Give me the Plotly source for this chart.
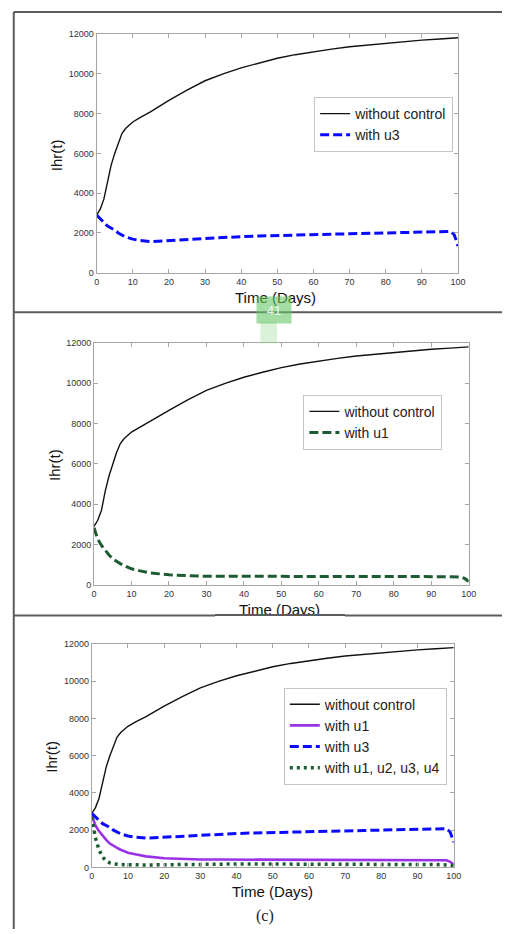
import plotly.graph_objects as go

# ---------------- data ----------------
t_days = [0, 1, 2, 3, 4, 5, 6, 7, 8, 10, 12, 15, 20, 25, 30, 35, 40, 45, 50,
          55, 60, 65, 70, 75, 80, 85, 90, 95, 98, 99, 100]

without_control = [2900, 3200, 3700, 4650, 5400, 6000, 6550, 7000, 7250, 7580,
                   7800, 8100, 8660, 9180, 9650, 10000, 10300, 10550, 10780,
                   10960, 11110, 11240, 11360, 11450, 11530, 11610, 11690,
                   11750, 11790, 11800, 11810]

with_u3 = [2900, 2700, 2520, 2350, 2250, 2150, 2000, 1900, 1800, 1690, 1620,
           1570, 1620, 1680, 1750, 1780, 1820, 1850, 1880, 1900, 1920, 1940,
           1960, 1980, 2000, 2020, 2050, 2070, 2080, 1900, 1350]

with_u1 = [2830, 2260, 1950, 1700, 1480, 1280, 1150, 1050, 950, 790, 700, 590,
           490, 450, 420, 420, 420, 420, 420, 420, 420, 420, 420, 420, 420,
           420, 420, 400, 380, 300, 160]

with_all = [2700, 1600, 950, 550, 350, 240, 190, 160, 150, 140, 130, 130, 140,
            160, 180, 180, 180, 180, 180, 180, 180, 180, 180, 180, 180, 180,
            180, 150, 130, 120, 100]

x_ticks = [0, 10, 20, 30, 40, 50, 60, 70, 80, 90, 100]
y_ticks = [0, 2000, 4000, 6000, 8000, 10000, 12000]
y_ticktext = ["0", "2000", "4000", "6000", "8000", "10000", "12000"]

x_title = "Time (Days)"
y_title = "Ihr(t)"
panel_label = "(c)"
page_number = "41"

# ---------------- layout helpers ----------------
W, H = 510, 934
FONT = "Liberation Sans, Arial, sans-serif"


def px(x):
    return x / W


def py(y):
    return 1 - y / H


BLACK = "#111111"
BLUE = "#0a0aff"
DGREEN = "#1d5c33"
PURPLE = "#9a32e8"

fig = go.Figure()

# panel 1
fig.add_trace(go.Scatter(x=t_days, y=without_control, name="without control",
                         mode="lines", line=dict(color=BLACK, width=1.4),
                         xaxis="x", yaxis="y", legend="legend"))
fig.add_trace(go.Scatter(x=t_days, y=with_u3, name="with u3", mode="lines",
                         line=dict(color=BLUE, width=3, dash="9px,4px"),
                         xaxis="x", yaxis="y", legend="legend"))
# panel 2
fig.add_trace(go.Scatter(x=t_days, y=without_control, name="without control",
                         mode="lines", line=dict(color=BLACK, width=1.4),
                         xaxis="x2", yaxis="y2", legend="legend2"))
fig.add_trace(go.Scatter(x=t_days, y=with_u1, name="with u1", mode="lines",
                         line=dict(color=DGREEN, width=3, dash="9px,4px"),
                         xaxis="x2", yaxis="y2", legend="legend2"))
# panel 3
fig.add_trace(go.Scatter(x=t_days, y=without_control, name="without control",
                         mode="lines", line=dict(color=BLACK, width=1.4),
                         xaxis="x3", yaxis="y3", legend="legend3"))
fig.add_trace(go.Scatter(x=t_days, y=with_u1, name="with u1", mode="lines",
                         line=dict(color=PURPLE, width=2.6),
                         xaxis="x3", yaxis="y3", legend="legend3"))
fig.add_trace(go.Scatter(x=t_days, y=with_u3, name="with u3", mode="lines",
                         line=dict(color=BLUE, width=3, dash="9px,4px"),
                         xaxis="x3", yaxis="y3", legend="legend3"))
fig.add_trace(go.Scatter(x=t_days, y=with_all, name="with u1, u2, u3, u4",
                         mode="lines",
                         line=dict(color=DGREEN, width=3.5, dash="3px,4px"),
                         xaxis="x3", yaxis="y3", legend="legend3"))

axis_common = dict(showline=True, linecolor="#a6a6a6", linewidth=1,
                   mirror="ticks", ticks="inside", ticklen=4,
                   tickcolor="#a6a6a6", showgrid=False, zeroline=False,
                   tickfont=dict(family=FONT, size=9, color="#333333"))

panels = [
    # (x0, x1, ytop, ybottom) in pixels
    (95.7, 465.0, 29.3, 270.7),
    (93.0, 476.0, 341.7, 586.0),
    (90.7, 460.7, 646.0, 871.7),
]

for i, (x0, x1, yt, yb) in enumerate(panels, start=1):
    sx = "" if i == 1 else str(i)
    fig.layout["xaxis" + sx] = dict(axis_common, domain=[px(x0), px(x1)],
                                    range=[0, 100], tickvals=x_ticks,
                                    anchor="y" + sx)
    fig.layout["yaxis" + sx] = dict(axis_common, domain=[py(yb), py(yt)],
                                    range=[0, 12000], tickvals=y_ticks,
                                    ticktext=y_ticktext, anchor="x" + sx)

legend_common = dict(bgcolor="white", bordercolor="#c4c4c4", borderwidth=1,
                     font=dict(family=FONT, size=14, color="#222222"),
                     xanchor="left", yanchor="top", itemwidth=30,
                     tracegroupgap=0)

fig.update_layout(
    width=W, height=H,
    margin=dict(l=0, r=0, t=0, b=0),
    paper_bgcolor="white", plot_bgcolor="white",
    showlegend=True,
    legend=dict(legend_common, x=px(318), y=py(93)),
    legend2=dict(legend_common, x=px(307), y=py(394)),
    legend3=dict(legend_common, x=px(287), y=py(690)),
)

# panel frames
frame = dict(type="line", xref="paper", yref="paper",
             line=dict(color="#5c5c5c", width=2))
shapes = [
    dict(frame, x0=px(11), x1=px(510), y0=py(7), y1=py(7)),
    dict(frame, x0=px(11), x1=px(510), y0=py(310.5), y1=py(310.5)),
    dict(frame, x0=px(11), x1=px(510), y0=py(617), y1=py(617)),
    dict(frame, x0=px(11), x1=px(11), y0=py(7), y1=py(934)),
    # faint lower part of page badge
    dict(type="rect", xref="paper", yref="paper", x0=px(263), x1=px(280),
         y0=py(342), y1=py(320), line=dict(width=0),
         fillcolor="rgba(150,215,150,0.35)"),
]
fig.update_layout(shapes=shapes)

ann = []
title_font = dict(family=FONT, size=15, color="#111111")
for (xc, yc) in [(279, 296), (283, 611), (275, 896)]:
    ann.append(dict(text=x_title, x=px(xc), y=py(yc), xref="paper",
                    yref="paper", showarrow=False, font=title_font,
                    xanchor="center", yanchor="middle"))
for (xc, yc) in [(55, 152), (52, 465), (50, 760)]:
    ann.append(dict(text=y_title, x=px(xc), y=py(yc), xref="paper",
                    yref="paper", showarrow=False, font=title_font,
                    textangle=-90, xanchor="center", yanchor="middle"))
ann.append(dict(text=panel_label, x=px(268), y=py(921), xref="paper",
                yref="paper", showarrow=False,
                font=dict(family="Liberation Serif, Times New Roman, serif",
                          size=16, color="#222222"),
                xanchor="center", yanchor="middle"))
# white strip hiding the lower part of the clipped middle x title,
# with the frame line redrawn on top of it
ann.append(dict(text=" ", x=px(283), y=py(618), xref="paper", yref="paper",
                showarrow=False, width=130, height=12, borderpad=0,
                borderwidth=0, bgcolor="white", xanchor="center",
                yanchor="top", font=dict(size=1)))
ann.append(dict(text=" ", x=px(283), y=py(616), xref="paper", yref="paper",
                showarrow=False, width=130, height=2, borderpad=0,
                borderwidth=0, bgcolor="#5c5c5c", xanchor="center",
                yanchor="top", font=dict(size=1)))
# page-number badge
ann.append(dict(text=page_number, x=px(277), y=py(308), xref="paper",
                yref="paper", showarrow=False, width=32, height=24,
                bgcolor="rgba(105,200,105,0.6)",
                font=dict(family=FONT, size=13, color="rgba(255,255,255,0.85)"),
                xanchor="center", yanchor="middle"))
fig.update_layout(annotations=ann)

fig.write_html(
    "out.html",
    config={"displayModeBar": False},
    post_script=("document.body.style.margin='0';"
                 "document.body.style.overflow='hidden';"
                 "document.documentElement.style.overflow='hidden';"),
)
